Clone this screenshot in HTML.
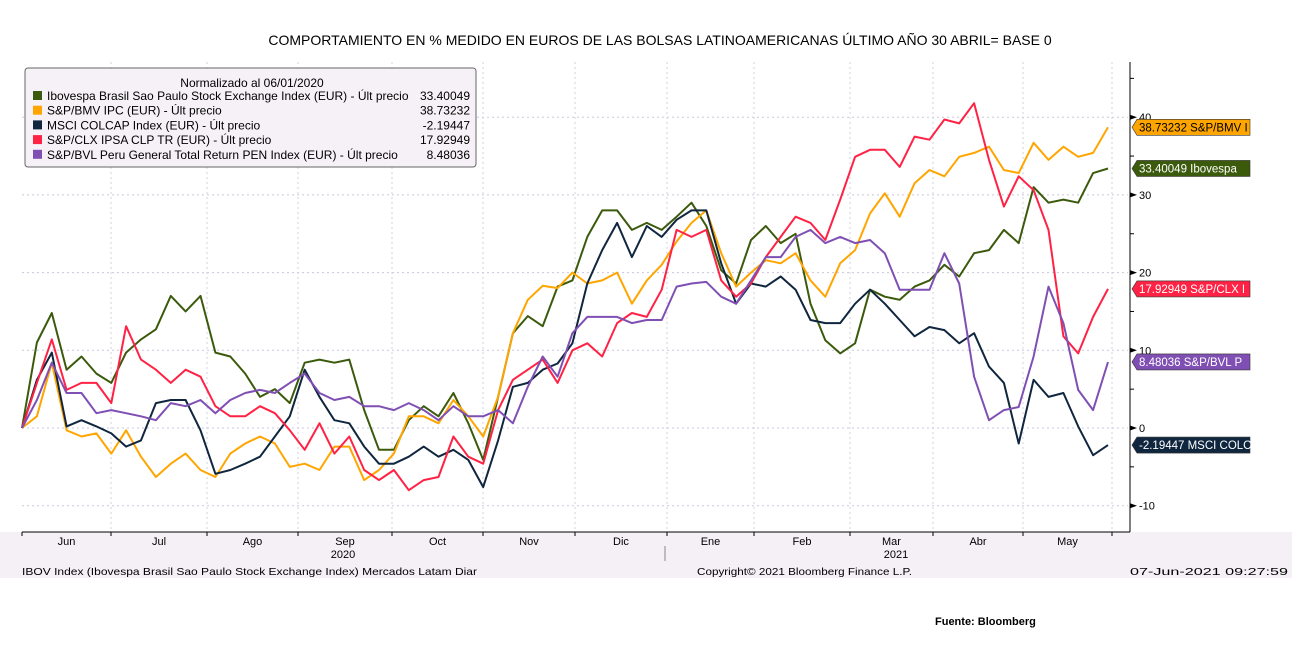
<!DOCTYPE html>
<html><head><meta charset="utf-8"><style>
body{margin:0;background:#fff;}
svg{display:block;font-family:"Liberation Sans",sans-serif;}
</style></head><body>
<svg id="chart" width="1303" height="649">
<text x="660" y="45" text-anchor="middle" font-size="14">COMPORTAMIENTO EN %  MEDIDO EN EUROS DE LAS BOLSAS LATINOAMERICANAS ÚLTIMO AÑO  30 ABRIL= BASE 0</text>
<g id="grid"></g>
<g id="series"></g>
<g id="axis"></g>
<rect x="0" y="532" width="1292" height="46" fill="#f5f0f5"/>
<g id="xaxis"></g>
<line x1="665" y1="546" x2="665" y2="561" stroke="#888"/>
<text x="343" y="558" text-anchor="middle" font-size="11">2020</text>
<text x="896" y="558" text-anchor="middle" font-size="11">2021</text>
<text x="22" y="575" font-size="10.5" textLength="455" lengthAdjust="spacingAndGlyphs">IBOV Index (Ibovespa Brasil Sao Paulo Stock Exchange Index) Mercados Latam  Diar</text>
<text x="697" y="575" font-size="10.5" textLength="215" lengthAdjust="spacingAndGlyphs">Copyright© 2021 Bloomberg Finance L.P.</text>
<text x="1130" y="575" font-size="10.5" textLength="158" lengthAdjust="spacingAndGlyphs">07-Jun-2021 09:27:59</text>
<text x="935" y="625" font-size="11" font-weight="bold">Fuente: Bloomberg</text>
<g>
<rect x="25" y="68" width="451" height="99" rx="3" fill="#f6f1f6" stroke="#666"/>
<text x="252" y="87" text-anchor="middle" font-size="12">Normalizado al 06/01/2020</text>
<g id="legend-entries"></g>
</g>
<g id="labels"></g>
</svg>
<script>
const months=["Jun","Jul","Ago","Sep","Oct","Nov","Dic","Ene","Feb","Mar","Abr","May"];
const yTicks=[40,30,20,10,0,-10];
const ibov=[0,11,14.8,7.5,9.2,7,5.8,9.7,11.4,12.7,17,15,17,9.7,9.2,7,4,5,3.2,8.4,8.8,8.4,8.8,2.3,-2.8,-2.8,1,2.8,1.5,4.5,0.6,-4.1,4,12.2,14.4,13.1,18.2,19,24.6,28,28,25.5,26.4,25.5,27.2,29,26,20.3,18.6,24.2,26,23.8,25,16,11.3,9.6,10.9,17.8,16.9,16.5,18.2,19,21,19.5,22.5,22.9,25.5,23.8,31,29,29.4,29,32.8,33.4];
const bmv=[0,1.5,8.4,-0.3,-1.1,-0.7,-3.3,-0.3,-3.7,-6.3,-4.6,-3.3,-5.4,-6.3,-3.3,-2,-1.1,-2,-5,-4.6,-5.4,-2.4,-2.4,-6.7,-5.4,-3.3,1.5,1.5,0.6,3.6,1.5,-1.1,4,12.2,16.5,18.3,18,20,18.6,19,20,16,19,21,24,26.4,28,22.5,18.2,20,21.6,21.2,22.5,19,16.9,21.2,22.9,27.6,30.2,27.2,31.5,33.2,32.4,34.9,35.4,36.2,33.2,32.8,36.7,34.5,36.2,34.9,35.4,38.7];
const colcap=[0,6.2,9.7,0.2,1,0.2,-0.7,-2.4,-1.6,3.2,3.6,3.6,-0.3,-5.9,-5.4,-4.6,-3.7,-1.1,1.5,7.5,4,1,0.6,-2.4,-4.6,-4.6,-3.7,-2.4,-3.7,-2.8,-4.1,-7.6,-1.6,5.3,5.8,7.5,8.3,10.9,18.6,22.9,26.4,22,26,24.6,26.8,28,28,21.2,16,18.6,18.2,19.5,17.8,13.9,13.5,13.5,16,17.8,16,13.9,11.8,13,12.6,10.9,12.2,7.9,5.8,-2,6.2,4,4.5,0.2,-3.5,-2.2];
const ipsa=[0,5.8,11.4,4.9,5.8,5.8,3.2,13.1,8.8,7.5,5.8,7.5,6.6,2.8,1.5,1.5,2.8,1.9,-0.3,-2.8,0.6,-3.3,-1.1,-5.4,-6.7,-5.4,-8,-6.7,-6.3,-1.1,-3.7,-4.6,2.3,6.2,7.5,8.8,5.8,10,10.9,9.2,13.5,14.8,14.3,17.8,25.5,24.6,25.5,19,16.9,18.6,22,24.6,27.2,26.4,24.2,29.4,34.9,35.8,35.8,33.6,37.5,37.1,39.7,39.2,41.8,34.5,28.5,32.4,30.6,25.5,11.8,9.6,14.3,17.9];
const bvl=[0,3.6,8.4,4.5,4.5,1.9,2.3,1.9,1.5,1,3.2,2.8,3.6,1.9,3.6,4.5,4.9,4.5,5.8,7,4.5,3.6,4,2.8,2.8,2.3,3.2,2.3,1,2.8,1.5,1.5,2.3,0.6,5.3,9.2,6.6,12.2,14.3,14.3,14.3,13.5,13.9,13.9,18.2,18.6,18.8,16.9,16,19,22,22,24.6,25.5,23.8,24.6,23.8,24.2,22.5,17.8,17.8,17.8,22.5,18.6,6.6,1,2.3,2.7,9.2,18.2,13.5,4.9,2.3,8.5];
const names=["Ibovespa Brasil Sao Paulo Stock Exchange Index (EUR) - Últ precio","S&P/BMV IPC (EUR) - Últ precio","MSCI COLCAP Index (EUR) - Últ precio","S&P/CLX IPSA CLP TR (EUR) - Últ precio","S&P/BVL Peru General Total Return PEN Index (EUR) - Últ precio"];
const lastVals=["33.40049","38.73232","-2.19447","17.92949","8.48036"];
const tags=["33.40049 Ibovespa","38.73232 S&P/BMV I","-2.19447 MSCI COLC","17.92949 S&P/CLX I","8.48036  S&P/BVL P"];
const colors=["#3b5a0c","#ffa500","#10263f","#ff2244","#7f4fb3"];
const NS="http://www.w3.org/2000/svg";
const X0=22,X1=1108,Y0=428,PU=7.77;
const yS=v=>Y0-v*PU;
const xS=(i,n)=>X0+i*(X1-X0)/(n-1);
function mk(t,a,p){const e=document.createElementNS(NS,t);for(const k in a)e.setAttribute(k,a[k]);p.appendChild(e);return e;}
const grid=document.getElementById('grid');
yTicks.forEach(v=>{const l=mk('line',{x1:22,x2:1128,y1:yS(v),y2:yS(v),stroke:'#c8c8dc','stroke-dasharray':'2,3'},grid);

});
const mb=[22,111,207,298,392,483,575,667,754,850,933,1023,1112];
mb.slice(1).forEach(x=>{const l=mk('line',{x1:x,x2:x,y1:62,y2:530,stroke:'#d0d0e0','stroke-dasharray':'2,3'},grid);

});
const ser=document.getElementById('series');
[ibov,bmv,colcap,ipsa,bvl].forEach((d,k)=>{const pts=d.map((v,i)=>xS(i,d.length).toFixed(1)+','+yS(v).toFixed(1)).join(' ');
const p=mk('polyline',{points:pts,fill:'none',stroke:colors[k],'stroke-width':2,'stroke-linejoin':'round'},ser);

});
const ax=document.getElementById('axis');
const al=mk('line',{x1:1130,x2:1130,y1:62,y2:532,stroke:'#000'},ax);


for(let v=45;v>=-15;v-=5){if(yS(v)<62||yS(v)>530)continue;const t=mk('line',{x1:1130,x2:1134,y1:yS(v),y2:yS(v),stroke:'#000'},ax);

}
yTicks.forEach(v=>{const p=mk('path',{d:`M1130 ${yS(v)-2.5} L1137 ${yS(v)} L1130 ${yS(v)+2.5} Z`,fill:'#000'},ax);


const t=mk('text',{x:1139,y:yS(v)+4,'font-size':11},ax);t.textContent=v;

});
const xa=document.getElementById('xaxis');
mk('line',{x1:22,x2:1130,y1:532,y2:532,stroke:'#000'},xa);
mb.forEach(x=>{const t=mk('line',{x1:x,x2:x,y1:532,y2:536,stroke:'#000'},xa);

});
months.forEach((m,i)=>{const t=mk('text',{x:(mb[i]+mb[i+1])/2,y:545,'text-anchor':'middle','font-size':11},xa);t.textContent=m;

});
const le=document.getElementById('legend-entries');
const order=[0,1,2,3,4];
order.forEach((k,i)=>{const y=96+i*14.7;
const r=mk('rect',{x:33,y:y-5,width:9,height:9,fill:colors[k]},le);


const t=mk('text',{x:47,y:y+4,'font-size':12},le);t.textContent=names[k];


const v=mk('text',{x:470,y:y+4,'font-size':12,'text-anchor':'end'},le);v.textContent=lastVals[k];

});
const lb=document.getElementById('labels');
const finals=[ibov,bmv,colcap,ipsa,bvl].map(d=>d[d.length-1]);
finals.forEach((v,k)=>{const y=yS(v);
const p=mk('path',{d:`M1132 ${y} L1137 ${y-8} L1250 ${y-8} L1250 ${y+8} L1137 ${y+8} Z`,fill:colors[k],stroke:'#333','stroke-width':0.6},lb);


const t=mk('text',{x:1139,y:y+4,'font-size':11.5,fill:k==1?'#000':'#fff'},lb);t.textContent=tags[k];

});
</script>
</body></html>
